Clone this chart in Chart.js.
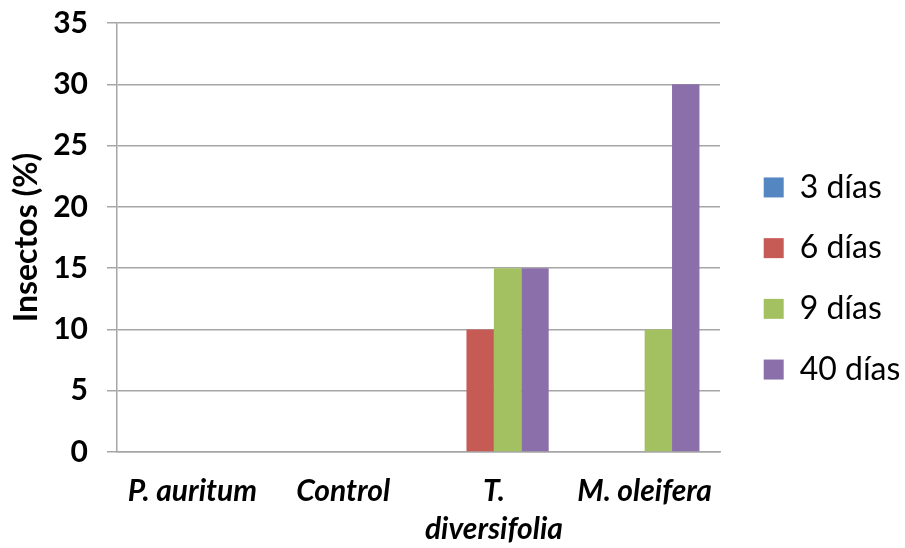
<!DOCTYPE html>
<html><head><meta charset="utf-8">
<script src="https://cdn.jsdelivr.net/npm/chart.js@4"></script>
<style>html,body{margin:0;padding:0;background:#fff}#wrap{width:905px;height:548px}</style>
</head><body><div id="wrap"><canvas id="c"></canvas></div>
<script>
const categories = [["P. auritum"], ["Control"], ["T.", "diversifolia"], ["M. oleifera"]];
const seriesNames = ["3 días", "6 días", "9 días", "40 días"];
const dias3 = [0, 0, 0, 0];
const dias6 = [0, 0, 10, 0];
const dias9 = [0, 0, 15, 10];
const dias40 = [0, 0, 15, 30];
const yTicks = [0, 5, 10, 15, 20, 25, 30, 35];
const colors = ["#5486C2", "#C65A55", "#A4C162", "#8B6FAA"];

const FONT = "Lato, 'Open Sans', sans-serif";

const legendPlacer = {
  id: 'legendPlacer',
  beforeLayout(chart) {
    const lg = chart.legend;
    if (lg && !lg._patched) {
      lg._patched = true;
      const origFit = lg.fit;
      lg.fit = function () { origFit.call(this); this.width = 185; };
    }
  },
  afterLayout(chart) {
    const lg = chart.legend;
    if (lg) { lg.left += 15; lg.right += 15; lg.top -= 7; lg.bottom -= 7; }
  }
};

const ctx = document.getElementById('c');
new Chart(ctx, {
  type: 'bar',
  data: {
    labels: categories,
    datasets: [dias3, dias6, dias9, dias40].map((d, i) => ({
      label: seriesNames[i], data: d, backgroundColor: colors[i],
      borderWidth: 0, categoryPercentage: 4/5.5, barPercentage: 1
    }))
  },
  plugins: [legendPlacer],
  options: {
    responsive: true, maintainAspectRatio: false, animation: false,
    layout: { padding: { top: 23, right: 0, left: 2, bottom: 0 } },
    plugins: {
      tooltip: { enabled: false },
      legend: {
        position: 'right',
        labels: { boxWidth: 20, boxHeight: 20, padding: 28.7, color: '#000',
          font: { family: FONT, size: 32 } }
      }
    },
    scales: {
      x: {
        afterFit: s => { s.height = 96; },
        grid: { display: false, drawTicks: false },
        border: { color: '#A6A6A6', width: 1.5 },
        ticks: { color: '#000', padding: 21, maxRotation: 0, autoSkip: false,
          font: { family: FONT, size: 30, weight: 'bold', style: 'italic', lineHeight: 1.25 } }
      },
      y: {
        min: 0, max: 35,
        afterFit: s => { s.width = 115; s.paddingTop = 0; s.paddingBottom = 0; },
        afterBuildTicks: s => { s.ticks = yTicks.map(v => ({ value: v })); },
        grid: { color: '#A6A6A6', lineWidth: 1.5, tickLength: 10 },
        border: { color: '#A6A6A6', width: 1.5 },
        ticks: { color: '#000', padding: 19, font: { family: FONT, size: 30, weight: 'bold' } },
        title: { display: true, text: 'Insectos (%)', color: '#000', padding: { top: 5, bottom: 0 },
          font: { family: FONT, size: 32, weight: 'bold' } }
      }
    }
  }
});
</script></body></html>
